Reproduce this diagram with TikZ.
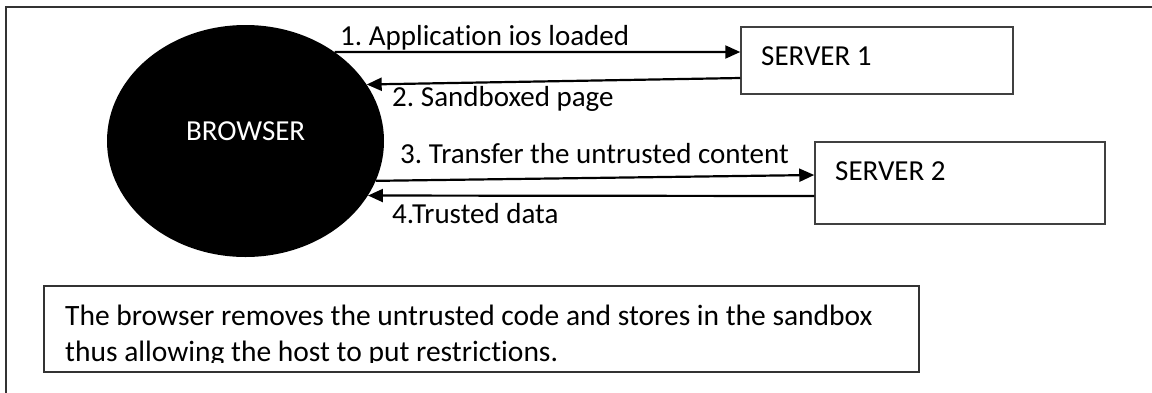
\documentclass[tikz,border=0pt]{standalone}
\usepackage{fontspec}
\setmainfont{Carlito}[Ligatures=NoCommon]
\usetikzlibrary{arrows.meta,shapes.geometric}
\tikzset{
  txt/.style={font=\fontsize{29}{36}\selectfont, inner sep=0pt, anchor=base west},
  notetxt/.style={txt, font=\fontsize{29.5}{36}\selectfont},
  srvbox/.style={draw=black!75, line width=1.5pt, inner sep=0pt},
  flow/.style={line width=2.2pt, -{Triangle[length=15pt,width=13pt]}},
}
\begin{document}
\begin{tikzpicture}[x=1pt,y=-1pt]
\clip (0,0) rectangle (1152,392);
% outer frame (only top and left edges fall inside the page)
\draw[black!80, line width=1.6pt] (6,7) rectangle (1180,420);

% browser
\node[ellipse, fill=black, minimum width=277pt, minimum height=232pt, inner sep=0pt] (browser) at (245.5,141) {};
\node[txt, text=white] (btxt) at (186,140) {BROWSER};

% servers
\node[srvbox, minimum width=272pt, minimum height=67pt] (s1) at (877,60.5) {};
\node[txt] (s1t) at (761,65) {SERVER 1};
\node[srvbox, minimum width=290pt, minimum height=82pt] (s2) at (960,183) {};
\node[txt] (s2t) at (835,180) {SERVER 2};

% messages
\draw[flow] (browser.45) -- ([yshift=8.5pt]s1.west);
\draw[flow] ([yshift=-17.5pt]s1.west) -- (browser.25);
\draw[flow] (browser.-17) -- ([yshift=8pt]s2.west);
\draw[flow] ([yshift=-13pt]s2.west) -- (browser.-24);

\node[txt] (l1) at (340,45) {1.\hspace{-2pt} Application ios loaded};
\node[txt] (l2) at (392,106) {2.\hspace{-2pt} Sandboxed page};
\node[txt] (l3) at (400,163) {3.\hspace{-2pt} Transfer the untrusted content};
\node[txt] (l4) at (392,223) {4.Trusted data};

% note
\node[draw=black!80, line width=1.5pt, minimum width=875pt, minimum height=86pt, inner sep=0pt] (note) at (481.5,329) {};
\begin{scope}
  \clip (44,286) rectangle (919,362);
  \node[notetxt] (n1) at (65,325) {The browser removes the untrusted code and stores in the sandbox};
  \node[notetxt] (n2) at (65,361) {thus allowing the host to put restrictions.};
\end{scope}
\end{tikzpicture}
\end{document}
